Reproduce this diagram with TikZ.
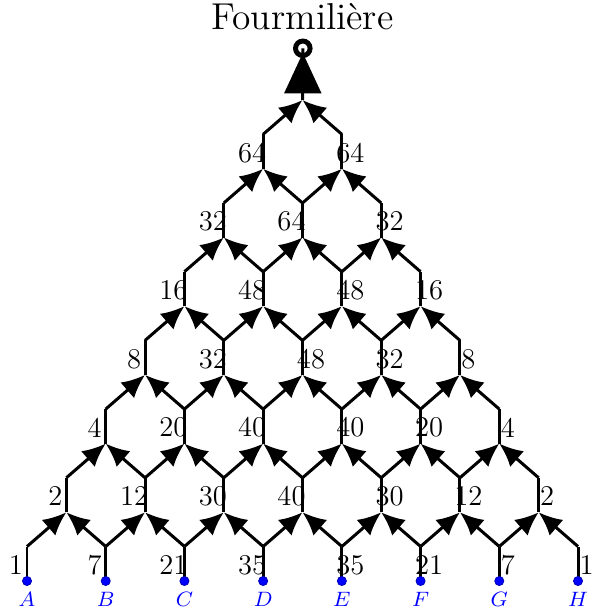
\documentclass[tikz,border=0pt]{standalone}
\usetikzlibrary{arrows.meta}
\begin{document}
\begin{tikzpicture}[x=0.3846pt,y=-0.3846pt,
  edge/.style={line width=1.15pt},
  arr/.style={edge,-{Latex[length=9pt,width=8pt]}},
  num/.style={inner sep=0pt,font=\fontsize{11}{13}\selectfont},
  bdot/.style={circle,fill=blue,draw=blue!70!black,line width=0.3pt,inner sep=0pt,minimum size=3.5pt},
  letter/.style={text=blue,inner sep=0pt,font=\fontsize{8.5}{10}\selectfont}]
\useasboundingbox (0,0) rectangle (592,614);
% lattice points
\foreach \k in {0,...,6}{
  \pgfmathtruncatemacro\n{7-\k}
  \foreach \i in {0,...,\n}{
    \pgfmathsetmacro\xx{27+39.357*\k+78.714*\i}
    \pgfmathsetmacro\yb{581-68.7*\k}
    \pgfmathsetmacro\yt{\yb-34.5}
    \coordinate (b-\k-\i) at (\xx,\yb);
    \coordinate (t-\k-\i) at (\xx,\yt);
  }
}
\coordinate (m) at (302.5,100.1);
% verticals
\foreach \k in {0,...,6}{
  \pgfmathtruncatemacro\n{7-\k}
  \foreach \i in {0,...,\n}{
    \draw[edge] (b-\k-\i) -- (t-\k-\i);
  }
}
% diagonals with arrows
\foreach \k in {0,...,5}{
  \pgfmathtruncatemacro\n{7-\k}
  \pgfmathtruncatemacro\kk{\k+1}
  \foreach \i in {0,...,\n}{
    \pgfmathtruncatemacro\j{\i-1}
    \ifnum\i>0 \draw[arr] (t-\k-\i) -- (b-\kk-\j); \fi
    \ifnum\i<\n \draw[arr] (t-\k-\i) -- (b-\kk-\i); \fi
  }
}
\draw[arr] (t-6-0) -- (m);
\draw[arr] (t-6-1) -- (m);
% top: anthill
\coordinate (c) at (302.8,48.3);
\draw[edge] (m) -- (c);
\fill (284,93.5) -- (302.8,53) -- (321.6,93.5) -- cycle;
\node[circle,draw,line width=1.9pt,minimum size=5.6pt,inner sep=0pt] (ring) at (c) {};
\node[anchor=base,inner sep=0pt,font=\fontsize{14.4}{17}\selectfont] (title) at (302.5,30) {Fourmilière};
% bottom dots and letters
\foreach \i/\L in {0/A,1/B,2/C,3/D,4/E,5/F,6/G,7/H}{
  \node[bdot] (d\i) at (b-0-\i) {};
  \node[letter] (l\i) at ([yshift=-7pt]b-0-\i) {$\L$};
}
% number labels
\foreach \k/\lst in {0/{1,7,21,35,35,21,7,1},1/{2,12,30,40,30,12,2},2/{4,20,40,40,20,4},3/{8,32,48,32,8},4/{16,48,48,16},5/{32,64,32},6/{64,64}}{
  \foreach \v [count=\c from 0] in \lst {
    \pgfmathsetmacro\xx{27+39.357*\k+78.714*\c}
    \pgfmathsetmacro\yy{581-68.7*\k-16}
    \pgfmathtruncatemacro\isleft{(\xx<300) || (\xx<305 && (\k==1 || \k==5)) ? 1 : 0}
    \ifnum\isleft=1
      \node[num] (n-\k-\c) at (\xx-11,\yy) {\v};
    \else
      \node[num] (n-\k-\c) at (\xx+8.5,\yy) {\v};
    \fi
  }
}
\end{tikzpicture}
\end{document}
